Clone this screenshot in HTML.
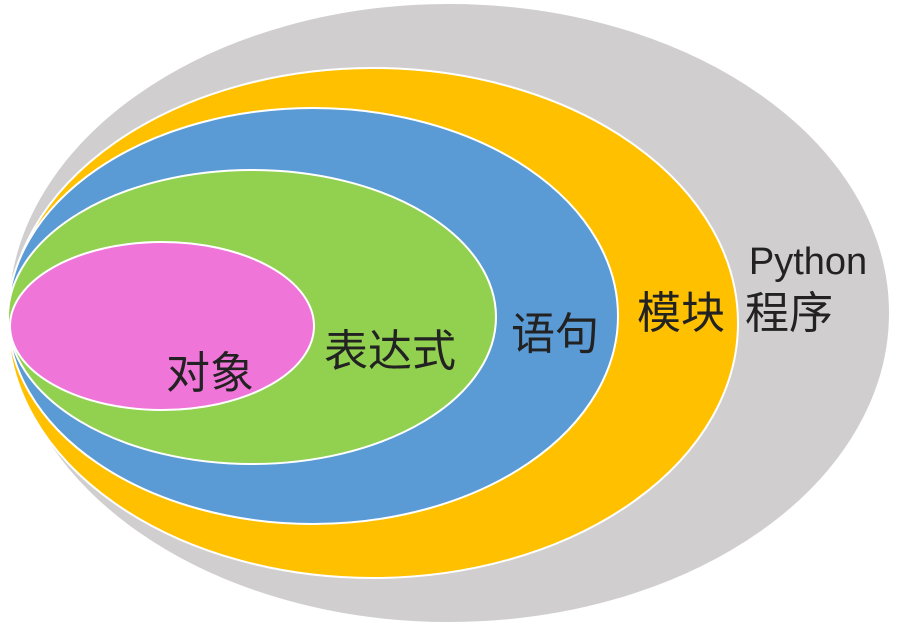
<!DOCTYPE html>
<html><head><meta charset="utf-8"><style>body{margin:0;background:#fff}svg{display:block}</style></head><body>
<svg width="903" height="629" viewBox="0 0 903 629" xmlns="http://www.w3.org/2000/svg" font-family="'Liberation Sans','Noto Sans CJK SC',sans-serif">
<ellipse cx="449" cy="313" rx="441" ry="310" fill="#d0cece" stroke="#fff" stroke-width="2"/>
<ellipse cx="373" cy="323" rx="365" ry="255" fill="#ffc000" stroke="#fff" stroke-width="2"/>
<ellipse cx="313" cy="316" rx="305" ry="208" fill="#5b9bd5" stroke="#fff" stroke-width="2"/>
<ellipse cx="252" cy="317" rx="244" ry="147" fill="#92d050" stroke="#fff" stroke-width="2"/>
<ellipse cx="162" cy="326" rx="152" ry="84" fill="#f075d8" stroke="#fff" stroke-width="2"/>
<g font-size="44" fill="#222" text-anchor="middle">
<text x="210" y="388">对象</text>
<text x="390" y="366">表达式</text>
<text x="555" y="349">语句</text>
<text x="681" y="328">模块</text>
<text x="808" y="274" font-size="38">Python</text>
<text x="789" y="328">程序</text>
</g>
</svg>
</body></html>
